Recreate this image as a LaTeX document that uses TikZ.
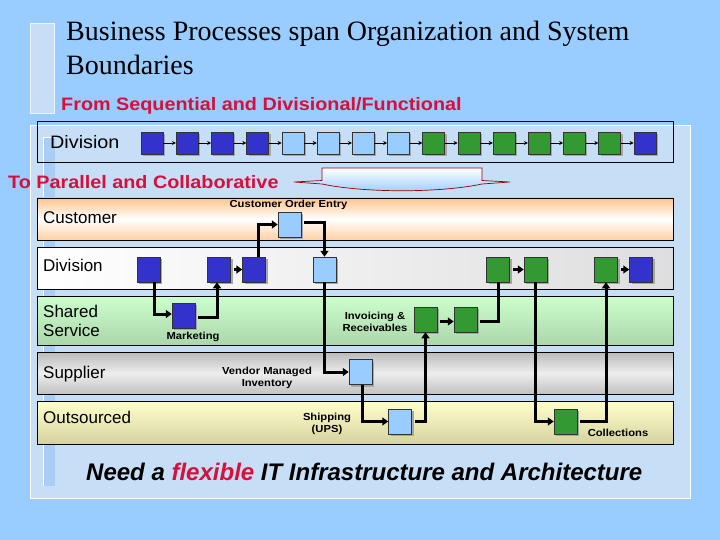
\documentclass[tikz,border=0pt]{standalone}
\usepackage{fontspec}
\setmainfont{Liberation Sans}
\newfontfamily\titlefont{Liberation Serif}
\newfontfamily\widefont[FakeStretch=1.1]{Liberation Sans}
\usetikzlibrary{arrows.meta,shadows}
\definecolor{bgblue}{RGB}{153,204,255}
\definecolor{panel}{RGB}{198,222,246}
\definecolor{strip}{RGB}{168,206,245}
\definecolor{hdred}{RGB}{214,16,60}
\definecolor{dblue}{RGB}{51,51,204}
\definecolor{lblue}{RGB}{153,204,255}
\definecolor{grn}{RGB}{51,153,51}
\definecolor{peach}{RGB}{255,196,140}
\definecolor{lgreen}{RGB}{204,255,204}
\definecolor{dgreen}{RGB}{172,214,172}
\definecolor{lyellow}{RGB}{255,255,204}
\definecolor{dyellow}{RGB}{214,210,160}
\tikzset{
  sq/.style={draw=black!80, line width=0.5pt, minimum width=22pt, minimum height=22pt,
    drop shadow={shadow xshift=2pt,shadow yshift=-2pt,fill=black!35,opacity=1}},
  lsq/.style={sq, minimum width=23pt, minimum height=25pt},
  conn/.style={line width=3pt, -{Triangle[length=6pt,width=8pt]}},
  plainconn/.style={line width=3pt},
  tconn/.style={line width=0.6pt, -{Stealth[length=4pt,width=4pt]}},
  lane/.style={draw=black, line width=0.7pt},
  lanelbl/.style={anchor=west, font=\fontsize{17}{19}\selectfont, align=left},
  small/.style={font=\widefont\bfseries\fontsize{10.2}{12}\selectfont, align=center},
  head/.style={anchor=base west, text=hdred, font=\widefont\bfseries\fontsize{18}{20}\selectfont},
}
\begin{document}
\begin{tikzpicture}[x=1pt,y=-1pt, every node/.style={inner sep=0pt}]
\useasboundingbox (0,0) rectangle (720,540);
\fill[bgblue] (0,0) rectangle (720,540);
% title bar
\draw[fill=panel, draw=white!70!panel, line width=1pt] (30,24) rectangle (54,114);
\node[anchor=base west, font=\titlefont\fontsize{28}{34}\selectfont] (title1) at (66,41) {Business Processes span Organization and System};
\node[anchor=base west, font=\titlefont\fontsize{28}{34}\selectfont] (title2) at (66,75) {Boundaries};
% panel
\draw[fill=panel, draw=white, line width=1pt] (30,126) rectangle (690,498);
\fill[strip] (43,137) rectangle (55,486);
\draw[white, line width=0.8pt] (43,486) -- (43,137) -- (55,137);
\node[head] (from) at (61,111) {From Sequential and Divisional/Functional};
% top division box
\draw[line width=0.8pt] (37,121) rectangle (673,162);
\node[anchor=west, font=\widefont\fontsize{18}{20}\selectfont] (topdiv) at (50,142) {Division};
\foreach \i/\c in {1/dblue,2/dblue,3/dblue,4/dblue,5/lblue,6/lblue,7/lblue,8/lblue,9/grn,10/grn,11/grn,12/grn,13/grn,14/grn,15/dblue}{
  \node[sq, fill=\c] (t\i) at ({152+35.2*(\i-1)},143) {};
}
\foreach \i in {1,...,14}{
  \pgfmathtruncatemacro{\j}{\i+1}
  \draw[tconn] (t\i) -- (t\j);
}
\node[head] (to) at (8,189) {To Parallel and Collaborative};
% block arrow
\shade[top color=white, bottom color=lblue, draw=red!60!black, line width=0.7pt]
  (294,182) -- (322,180.5) -- (322,168) -- (482,168) -- (482,180.5) -- (510,182) -- (482,184)
  .. controls (440,193) and (364,193) .. (322,184) -- cycle;
% lanes
\draw[lane, top color=peach, bottom color=peach!80, middle color=white] (37,198) rectangle (673,240);
\draw[lane, left color=white, right color=black!13] (37,247) rectangle (673,289);
\draw[lane, top color=lgreen, bottom color=dgreen] (37,296) rectangle (673,345);
\draw[lane, top color=black!27, bottom color=black!24, middle color=black!7] (37,352) rectangle (673,394);
\draw[lane, top color=lyellow, bottom color=dyellow] (37,401) rectangle (673,444);
\node[lanelbl] (lcus) at (43,218) {Customer};
\node[lanelbl] (ldiv) at (43,265) {Division};
\node[lanelbl] (lss) at (43,321) {Shared\\Service};
\node[lanelbl] (lsup) at (43,374) {Supplier};
\node[lanelbl] (lout) at (43,417) {Outsourced};
% lane boxes
\node[lsq, fill=dblue] (d1) at (148.5,269.5) {};
\node[lsq, fill=dblue] (d2) at (219,269.5) {};
\node[lsq, fill=dblue] (d3) at (254,269.5) {};
\node[lsq, fill=lblue] (coe) at (289.5,224.5) {};
\node[lsq, fill=lblue] (d4) at (324.5,269.5) {};
\node[lsq, fill=dblue] (mk) at (183.5,315.5) {};
\node[lsq, fill=grn] (g1) at (498,269.5) {};
\node[lsq, fill=grn] (g2) at (535.5,269.5) {};
\node[lsq, fill=grn] (g3) at (606,269.5) {};
\node[lsq, fill=dblue] (d5) at (641,269.5) {};
\node[lsq, fill=grn] (inv1) at (425.5,319.5) {};
\node[lsq, fill=grn] (inv2) at (465.5,319.5) {};
\node[lsq, fill=lblue] (vmi) at (360.5,372) {};
\node[lsq, fill=lblue] (ups) at (400,421.5) {};
\node[lsq, fill=grn] (col) at (565.5,421.5) {};
% labels
\node[small] (lblcoe) at (288.5,205) {Customer Order Entry};
\node[small] (lblmk) at (193,337) {Marketing};
\node[small] (lblinv) at (375,322) {Invoicing \&\\Receivables};
\node[small] (lblvmi) at (267,378) {Vendor Managed\\Inventory};
\node[small] (lblups) at (327,424) {Shipping\\(UPS)};
\node[small] (lblcol) at (618,433) {Collections};
% connectors
\draw[conn] ([xshift=6pt]d1.south) |- ([yshift=1.5pt]mk.west);
\draw[conn] ([yshift=-2pt,xshift=3pt]mk.east) -| ([xshift=-2pt]d2.south);
\draw[conn] ([xshift=3pt]d2.east) -- (d3.west);
\draw[conn] ([xshift=4pt]d3.north) |- (coe.west);
\draw[conn] ([xshift=3pt,yshift=2pt]coe.east) -| (d4.north);
\draw[conn] (d4.south) |- (vmi.west);
\draw[conn] ([xshift=2pt]vmi.south) |- (ups.west);
\draw[conn] ([xshift=3pt]ups.east) -| (inv1.south);
\draw[conn] ([xshift=3pt,yshift=-2pt]inv1.east) -- ([yshift=-2pt]inv2.west);
\draw[plainconn] ([xshift=3pt,yshift=-2pt]inv2.east) -| (g1.south);
\draw[conn] ([xshift=3pt]g1.east) -- (g2.west);
\draw[conn] (g2.south) |- (col.west);
\draw[conn] ([xshift=3pt]col.east) -| (g3.south);
\draw[conn] ([xshift=3pt]g3.east) -- (d5.west);
% bottom text
\node[anchor=base west, font=\bfseries\itshape\fontsize{24}{26}\selectfont] (need) at (86,480)
  {Need a \textcolor{hdred}{flexible} IT Infrastructure and Architecture};
\end{tikzpicture}
\end{document}
